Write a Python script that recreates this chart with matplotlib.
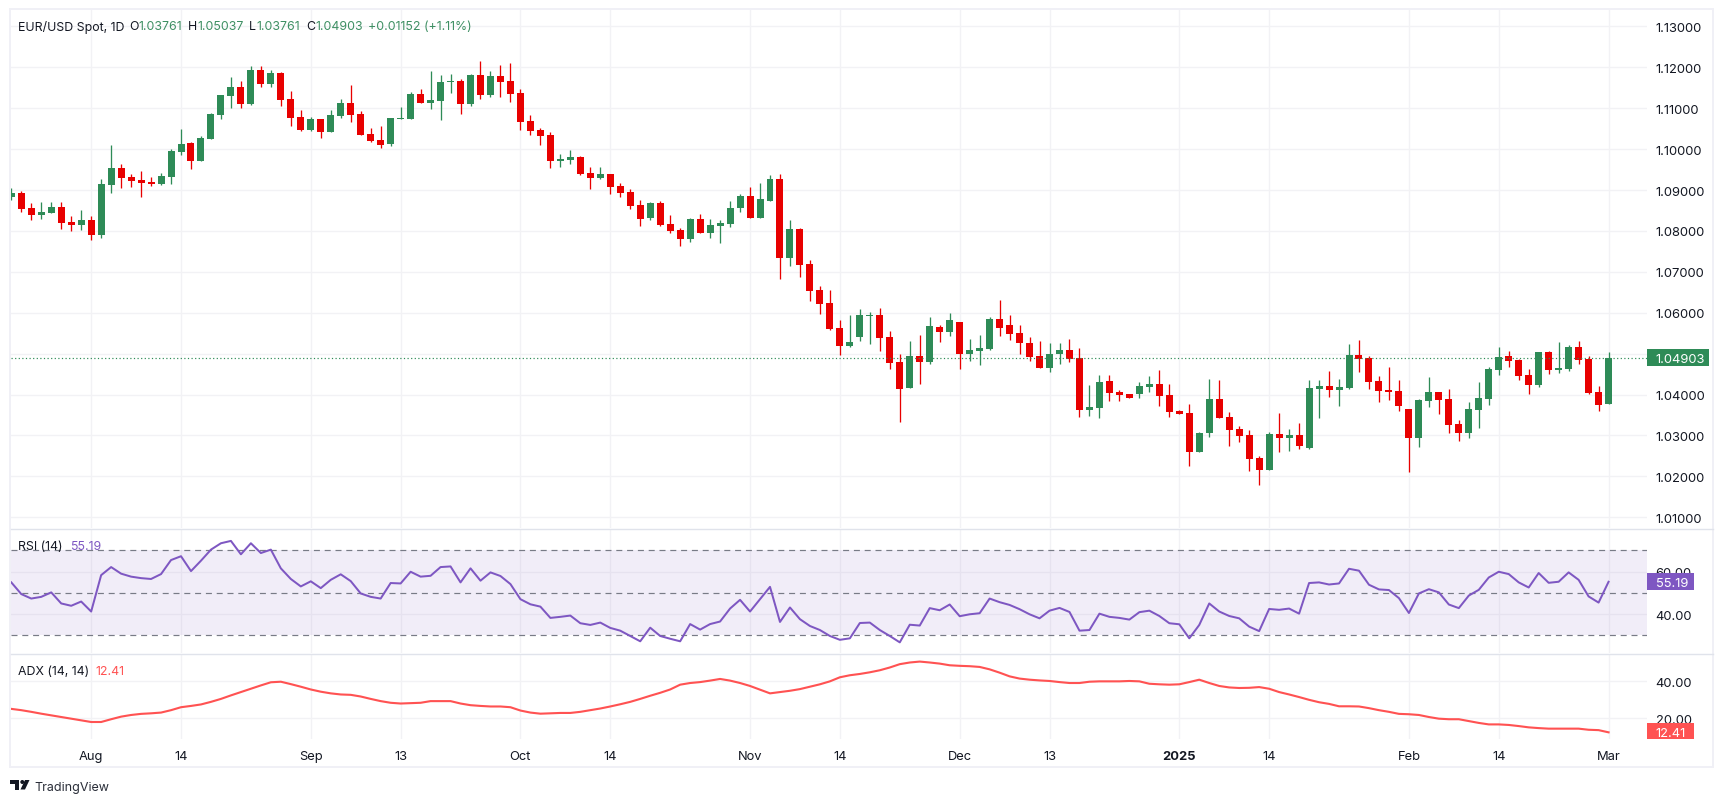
"""
EUR/USD daily candles with RSI and ADX panes, drawn in the TradingView look.
"""
import matplotlib
matplotlib.use('Agg')
import matplotlib.pyplot as plt
from matplotlib.patches import Polygon, Rectangle
import numpy as np

plt.rcParams['font.family'] = ['Inter', 'DejaVu Sans']

opens = [
    1.0883, 1.0893, 1.0856, 1.0839, 1.0844, 1.0859, 1.0822, 1.0815, 1.0827, 1.0790,
    1.0912, 1.0954, 1.0932, 1.0925, 1.0920, 1.0915, 1.0932, 1.0993, 1.1015, 1.0971,
    1.1025, 1.1084, 1.1130, 1.1152, 1.1110, 1.1193, 1.1159, 1.1186, 1.1123, 1.1079,
    1.1047, 1.1074, 1.1042, 1.1081, 1.1113, 1.1086, 1.1037, 1.1022, 1.1013, 1.1074,
    1.1074, 1.1135, 1.1113, 1.1118, 1.1164, 1.1167, 1.1110, 1.1181, 1.1132, 1.1179,
    1.1167, 1.1137, 1.1069, 1.1047, 1.1035, 1.0971, 1.0973, 1.0981, 1.0942, 1.0929,
    1.0939, 1.0910, 1.0895, 1.0863, 1.0832, 1.0868, 1.0817, 1.0802, 1.0780, 1.0829,
    1.0795, 1.0812, 1.0817, 1.0856, 1.0885, 1.0832, 1.0873, 1.0927, 1.0734, 1.0805,
    1.0719, 1.0656, 1.0624, 1.0563, 1.0519, 1.0541, 1.0592, 1.0594, 1.0541, 1.0480,
    1.0416, 1.0494, 1.0480, 1.0565, 1.0553, 1.0577, 1.0499, 1.0506, 1.0511, 1.0585,
    1.0570, 1.0551, 1.0526, 1.0494, 1.0465, 1.0499, 1.0509, 1.0489, 1.0362, 1.0367,
    1.0433, 1.0406, 1.0401, 1.0401, 1.0418, 1.0426, 1.0399, 1.0360, 1.0355, 1.0260,
    1.0306, 1.0389, 1.0345, 1.0316, 1.0301, 1.0245, 1.0215, 1.0304, 1.0294, 1.0301,
    1.0269, 1.0414, 1.0421, 1.0411, 1.0416, 1.0497, 1.0489, 1.0433, 1.0411, 1.0409,
    1.0365, 1.0294, 1.0384, 1.0406, 1.0389, 1.0328, 1.0306, 1.0362, 1.0389, 1.0460,
    1.0494, 1.0484, 1.0448, 1.0423, 1.0504, 1.0460, 1.0462, 1.0516, 1.0487, 1.0406,
    1.03761]
closes = [
    1.0893, 1.0854, 1.0839, 1.0846, 1.0859, 1.0819, 1.0815, 1.0827, 1.0790, 1.0915,
    1.0954, 1.0929, 1.0922, 1.0917, 1.0915, 1.0934, 1.0995, 1.1013, 1.0971, 1.1027,
    1.1086, 1.1132, 1.1152, 1.1110, 1.1193, 1.1159, 1.1186, 1.1120, 1.1076, 1.1047,
    1.1074, 1.1042, 1.1084, 1.1113, 1.1084, 1.1035, 1.1020, 1.1010, 1.1076, 1.1076,
    1.1135, 1.1113, 1.1120, 1.1164, 1.1167, 1.1110, 1.1181, 1.1132, 1.1179, 1.1164,
    1.1135, 1.1066, 1.1044, 1.1032, 1.0971, 1.0976, 1.0981, 1.0939, 1.0929, 1.0939,
    1.0907, 1.0893, 1.0861, 1.0829, 1.0868, 1.0815, 1.0800, 1.0780, 1.0829, 1.0795,
    1.0815, 1.0819, 1.0856, 1.0885, 1.0832, 1.0878, 1.0927, 1.0734, 1.0805, 1.0717,
    1.0653, 1.0621, 1.0560, 1.0519, 1.0528, 1.0594, 1.0594, 1.0538, 1.0477, 1.0414,
    1.0494, 1.0480, 1.0568, 1.0553, 1.0582, 1.0499, 1.0509, 1.0514, 1.0585, 1.0563,
    1.0548, 1.0526, 1.0492, 1.0465, 1.0499, 1.0509, 1.0487, 1.0362, 1.0370, 1.0431,
    1.0404, 1.0399, 1.0392, 1.0421, 1.0426, 1.0396, 1.0357, 1.0352, 1.0260, 1.0306,
    1.0389, 1.0343, 1.0313, 1.0299, 1.0242, 1.0215, 1.0304, 1.0294, 1.0301, 1.0274,
    1.0416, 1.0421, 1.0411, 1.0418, 1.0497, 1.0487, 1.0431, 1.0409, 1.0406, 1.0372,
    1.0294, 1.0387, 1.0406, 1.0387, 1.0326, 1.0306, 1.0365, 1.0392, 1.0462, 1.0492,
    1.0482, 1.0445, 1.0423, 1.0504, 1.0460, 1.0465, 1.0516, 1.0484, 1.0403, 1.0374,
    1.04903]
highs = [
    1.0905, 1.0898, 1.0868, 1.0871, 1.0871, 1.0871, 1.0836, 1.0851, 1.0836, 1.0927,
    1.1010, 1.0964, 1.0939, 1.0947, 1.0932, 1.0942, 1.1000, 1.1049, 1.1018, 1.1032,
    1.1088, 1.1132, 1.1176, 1.1167, 1.1203, 1.1203, 1.1193, 1.1189, 1.1142, 1.1096,
    1.1079, 1.1074, 1.1096, 1.1123, 1.1157, 1.1093, 1.1052, 1.1057, 1.1076, 1.1103,
    1.1140, 1.1147, 1.1191, 1.1181, 1.1184, 1.1171, 1.1184, 1.1216, 1.1191, 1.1206,
    1.1211, 1.1147, 1.1084, 1.1052, 1.1042, 1.0988, 1.0998, 1.0983, 1.0956, 1.0956,
    1.0939, 1.0917, 1.0903, 1.0876, 1.0871, 1.0873, 1.0839, 1.0807, 1.0832, 1.0841,
    1.0829, 1.0827, 1.0873, 1.0890, 1.0907, 1.0917, 1.0937, 1.0939, 1.0827, 1.0807,
    1.0729, 1.0665, 1.0656, 1.0582, 1.0594, 1.0609, 1.0602, 1.0612, 1.0555, 1.0499,
    1.0531, 1.0546, 1.0590, 1.0570, 1.0599, 1.0577, 1.0536, 1.0546, 1.0590, 1.0631,
    1.0594, 1.0570, 1.0541, 1.0531, 1.0526, 1.0526, 1.0536, 1.0514, 1.0423, 1.0448,
    1.0448, 1.0411, 1.0401, 1.0431, 1.0445, 1.0460, 1.0426, 1.0362, 1.0377, 1.0308,
    1.0438, 1.0436, 1.0357, 1.0323, 1.0313, 1.0250, 1.0308, 1.0355, 1.0316, 1.0330,
    1.0436, 1.0436, 1.0458, 1.0438, 1.0524, 1.0533, 1.0494, 1.0445, 1.0467, 1.0436,
    1.0365, 1.0389, 1.0443, 1.0406, 1.0414, 1.0338, 1.0382, 1.0431, 1.0467, 1.0516,
    1.0506, 1.0487, 1.0462, 1.0504, 1.0506, 1.0528, 1.0521, 1.0531, 1.0494, 1.0421,
    1.05037]
lows = [
    1.0876, 1.0846, 1.0827, 1.0829, 1.0844, 1.0805, 1.0800, 1.0802, 1.0778, 1.0783,
    1.0893, 1.0905, 1.0907, 1.0883, 1.0910, 1.0912, 1.0915, 1.0986, 1.0951, 1.0971,
    1.1025, 1.1074, 1.1101, 1.1101, 1.1108, 1.1152, 1.1152, 1.1105, 1.1057, 1.1044,
    1.1044, 1.1027, 1.1042, 1.1076, 1.1066, 1.1035, 1.1018, 1.1003, 1.1008, 1.1074,
    1.1074, 1.1113, 1.1098, 1.1071, 1.1137, 1.1086, 1.1105, 1.1123, 1.1127, 1.1127,
    1.1115, 1.1047, 1.1035, 1.1010, 1.0954, 1.0956, 1.0964, 1.0937, 1.0903, 1.0927,
    1.0890, 1.0883, 1.0854, 1.0812, 1.0827, 1.0812, 1.0795, 1.0763, 1.0773, 1.0795,
    1.0783, 1.0771, 1.0810, 1.0846, 1.0832, 1.0832, 1.0873, 1.0683, 1.0714, 1.0687,
    1.0629, 1.0597, 1.0558, 1.0497, 1.0516, 1.0531, 1.0524, 1.0506, 1.0462, 1.0333,
    1.0416, 1.0426, 1.0475, 1.0528, 1.0543, 1.0462, 1.0482, 1.0472, 1.0509, 1.0543,
    1.0533, 1.0499, 1.0482, 1.0465, 1.0455, 1.0475, 1.0480, 1.0345, 1.0348, 1.0343,
    1.0384, 1.0384, 1.0392, 1.0392, 1.0406, 1.0372, 1.0345, 1.0352, 1.0225, 1.0260,
    1.0296, 1.0343, 1.0274, 1.0284, 1.0213, 1.0179, 1.0215, 1.0260, 1.0262, 1.0267,
    1.0267, 1.0343, 1.0394, 1.0372, 1.0414, 1.0455, 1.0414, 1.0382, 1.0387, 1.0360,
    1.0211, 1.0272, 1.0370, 1.0352, 1.0306, 1.0286, 1.0294, 1.0318, 1.0374, 1.0448,
    1.0467, 1.0436, 1.0401, 1.0418, 1.0450, 1.0453, 1.0458, 1.0475, 1.0401, 1.0360,
    1.03761]
rsi = [
    54.9, 49.4, 47.3, 48.1, 50.2, 45.0, 43.9, 45.9, 41.2, 58.3,
    62.1, 59.0, 57.6, 56.9, 56.5, 58.8, 65.4, 67.2, 60.2, 65.1,
    70.3, 73.3, 74.4, 68.1, 73.3, 68.7, 70.3, 61.5, 56.5, 53.0,
    55.4, 52.2, 56.1, 58.7, 55.5, 49.7, 48.1, 47.3, 54.6, 54.4,
    59.9, 57.6, 58.0, 62.1, 62.4, 54.9, 61.5, 55.7, 59.6, 57.9,
    54.1, 47.0, 44.6, 43.5, 38.2, 38.7, 39.3, 35.7, 34.9, 36.0,
    33.5, 32.2, 29.7, 27.2, 33.6, 29.7, 28.4, 27.2, 35.3, 32.7,
    35.3, 36.5, 42.6, 46.7, 41.2, 47.0, 52.8, 36.3, 43.1, 37.6,
    34.4, 32.5, 29.7, 27.9, 28.6, 35.8, 36.0, 32.5, 29.7, 26.7,
    35.0, 34.6, 42.8, 41.8, 44.5, 39.0, 39.9, 40.4, 47.3, 45.6,
    44.3, 42.3, 39.9, 38.0, 41.6, 42.9, 41.0, 32.2, 32.5, 40.2,
    38.7, 38.2, 37.4, 40.9, 41.6, 39.1, 35.7, 35.2, 28.6, 34.9,
    45.0, 41.2, 39.1, 38.0, 34.1, 32.0, 42.4, 42.0, 42.6, 40.2,
    54.6, 54.9, 53.9, 54.4, 61.3, 60.4, 53.8, 51.6, 51.3, 47.5,
    40.5, 49.7, 51.7, 50.2, 44.5, 42.8, 48.7, 51.4, 57.2, 59.9,
    58.8, 54.9, 52.5, 59.3, 54.7, 55.2, 59.6, 56.1, 48.3, 45.4,
    55.19]
adx = [
    25.1, 24.4, 23.5, 22.5, 21.6, 20.7, 19.8, 18.9, 18.0, 18.0,
    19.5, 20.9, 21.8, 22.4, 22.7, 23.1, 24.4, 26.0, 26.7, 27.5,
    28.9, 30.5, 32.4, 34.2, 36.0, 37.8, 39.5, 39.8, 38.5, 37.1,
    35.6, 34.4, 33.5, 32.9, 32.7, 31.8, 30.5, 29.3, 28.4, 28.0,
    28.2, 28.4, 29.3, 29.3, 29.3, 28.0, 27.1, 26.7, 26.4, 26.4,
    26.0, 24.2, 23.1, 22.5, 22.7, 22.9, 22.9, 23.5, 24.4, 25.3,
    26.4, 27.6, 28.9, 30.5, 32.2, 33.8, 35.6, 38.2, 39.1, 39.6,
    40.4, 41.3, 40.4, 39.1, 37.5, 35.5, 33.5, 34.2, 34.9, 35.8,
    37.1, 38.4, 40.0, 42.2, 43.3, 44.0, 44.9, 46.0, 47.5, 49.3,
    50.2, 50.7, 50.2, 49.6, 48.7, 48.4, 48.2, 47.8, 46.5, 44.7,
    42.7, 41.5, 40.9, 40.5, 40.2, 39.6, 39.1, 39.1, 39.8, 40.0,
    40.0, 40.0, 40.2, 40.0, 38.7, 38.4, 38.2, 38.4, 39.6, 40.9,
    39.1, 37.5, 36.7, 36.4, 36.5, 36.9, 36.0, 34.2, 32.9, 31.5,
    30.0, 28.7, 27.8, 26.5, 26.5, 26.4, 25.5, 24.4, 23.5, 22.4,
    22.2, 21.8, 20.7, 19.8, 19.5, 19.5, 18.5, 17.5, 16.7, 16.7,
    16.4, 15.8, 15.1, 14.7, 14.4, 14.4, 14.4, 14.4, 13.8, 13.6,
    12.41]
date_positions = [8, 17, 30, 39, 51, 60, 74, 83, 95, 104, 117, 126, 140, 149, 160]
date_labels = ['Aug', '14', 'Sep', '13', 'Oct', '14', 'Nov', '14', 'Dec', '13',
               '2025', '14', 'Feb', '14', 'Mar']
price_ticks = [1.01, 1.02, 1.03, 1.04, 1.05, 1.06, 1.07, 1.08, 1.09, 1.10, 1.11,
               1.12, 1.13]
rsi_ticks = [40, 60]
rsi_levels = [70, 50, 30]
adx_ticks = [20, 40]

GREEN = '#2E8B57'
RED = '#E80000'
PURPLE = '#7E57C2'
CORAL = '#FF5252'
TEXT = '#131722'
GRID = '#F2F2F5'
SEP = '#E0E3EB'
WIDTH, HEIGHT = 1723, 803
PANE_LEFT, PANE_RIGHT = 10.5, 1646.7
PX = 0.72  # one pixel in points at dpi 100
FONT = 9.3
LEGEND_FONT = 8.9

fig = plt.figure(figsize=(WIDTH / 100, HEIGHT / 100), dpi=100, facecolor='white')
x = np.arange(len(closes))


def make_pane(top, bottom, ylim, yticks, fmt):
    ax = fig.add_axes([PANE_LEFT / WIDTH, 1 - bottom / HEIGHT,
                       (PANE_RIGHT - PANE_LEFT) / WIDTH, (bottom - top) / HEIGHT])
    ax.set_xlim(-0.08, 163.82)
    ax.set_ylim(*ylim)
    ax.set_xticks(date_positions)
    ax.set_xticklabels([])
    ax.set_yticks(yticks)
    ax.set_yticklabels([fmt.format(tick) for tick in yticks])
    ax.yaxis.tick_right()
    ax.tick_params(axis='both', length=0, labelsize=FONT, labelcolor=TEXT)
    ax.tick_params(axis='y', pad=6.4)
    ax.grid(True, color=GRID, linewidth=1.4 * PX)
    ax.set_axisbelow(True)
    for spine in ax.spines.values():
        spine.set_visible(False)
    return ax


ax_price = make_pane(11, 529.3, (1.00729, 1.13401), price_ticks, '{:.5f}')
ax_rsi = make_pane(530, 654, (21.7, 80.0), rsi_ticks, '{:.2f}')
ax_adx = make_pane(655, 740, (8.8, 54.8), adx_ticks, '{:.2f}')

# the 1.05000 label sits behind the last price box in the original
ax_price.get_yticklabels()[price_ticks.index(1.05)].set_visible(False)

# candles
opens_arr, closes_arr = np.array(opens), np.array(closes)
colors = [GREEN if c >= o else RED for o, c in zip(opens, closes)]
ax_price.vlines(x, lows, highs, colors=colors, linewidth=1.3 * PX, zorder=3)
ax_price.bar(x, closes_arr - opens_arr, bottom=opens_arr, width=0.7, color=colors,
             linewidth=0, zorder=4)
ax_price.axhline(closes[-1], color=GREEN, linewidth=1.2 * PX,
                 linestyle=(0, (1, 2)), zorder=5)

# RSI pane
ax_rsi.axhspan(rsi_levels[2], rsi_levels[0], color=PURPLE, alpha=0.1, linewidth=0,
               zorder=1)
for level in rsi_levels:
    ax_rsi.axhline(level, color='#787B86', linewidth=1.2 * PX, linestyle=(0, (5, 4)),
                   zorder=2)
ax_rsi.plot(x, rsi, color=PURPLE, linewidth=2 * PX, zorder=3)

# ADX pane
ax_adx.plot(x, adx, color=CORAL, linewidth=2.1 * PX, zorder=3)
ax_adx.set_xticklabels(date_labels)
ax_adx.tick_params(axis='x', pad=7.6)
ax_adx.get_xticklabels()[date_labels.index('2025')].set_fontweight('bold')

# frame, legends and price boxes are placed in pixels of the picture
ax_px = fig.add_axes([0, 0, 1, 1])
ax_px.set_xlim(0, WIDTH)
ax_px.set_ylim(HEIGHT, 0)
ax_px.axis('off')
ax_px.patch.set_alpha(0)

ax_px.add_patch(Rectangle((10, 10.3), 1703, 757.5, fill=False, edgecolor='#F0F0F6',
                          linewidth=2 * PX))
for y_sep in [529.5, 654.5]:
    ax_px.plot([10.5, 1712.5], [y_sep, y_sep], color=SEP, linewidth=1.4 * PX)


def px_text(x_pos, y_pos, label, color=TEXT, size=LEGEND_FONT):
    ax_px.text(x_pos, y_pos, label, color=color, fontsize=size, ha='left',
               va='center_baseline')


LEGEND_GREEN = '#3E8F63'
px_text(18, 25.5, 'EUR/USD Spot, 1D')
for letter, letter_x, value, value_x in [('O', 129, '1.03761', 138),
                                         ('H', 188, '1.05037', 197.3),
                                         ('L', 249.3, '1.03761', 256.7),
                                         ('C', 306, '1.04903', 315)]:
    px_text(letter_x, 25.5, letter)
    px_text(value_x, 25.5, value, LEGEND_GREEN)
px_text(367.7, 25.5, '+0.01152 (+1.11%)', LEGEND_GREEN)

px_text(18.3, 545.7, 'RSI (14)')
px_text(69.7, 545.7, '55.19', PURPLE)
px_text(18.3, 670.5, 'ADX (14, 14)')
px_text(95.3, 670.5, '12.41', CORAL)

for y0, y1, x1, color, label in [(350, 367, 1708.7, GREEN, '1.04903'),
                                 (574, 590.7, 1693.7, PURPLE, '55.19'),
                                 (724, 740, 1693.7, CORAL, '12.41')]:
    ax_px.add_patch(Rectangle((1647, y0), x1 - 1647, y1 - y0, color=color, linewidth=0))
    px_text(1655.7, (y0 + y1) / 2 + 0.3, label, 'white', FONT)

# TradingView mark
ax_px.add_patch(Polygon([(10, 781), (19, 781), (19, 790.5), (15, 790.5), (15, 785),
                         (10, 785)], color='#131722', linewidth=0))
ax_px.add_patch(Polygon([(25, 781), (29.5, 781), (25, 790.5), (20.5, 790.5)],
                        color='#131722', linewidth=0))
ax_px.add_patch(plt.Circle((22.3, 783), 2, color='#131722', linewidth=0))
px_text(34.3, 786.7, 'TradingView', '#2A2E39', 9.0)

fig.savefig('out.png', dpi=100)
